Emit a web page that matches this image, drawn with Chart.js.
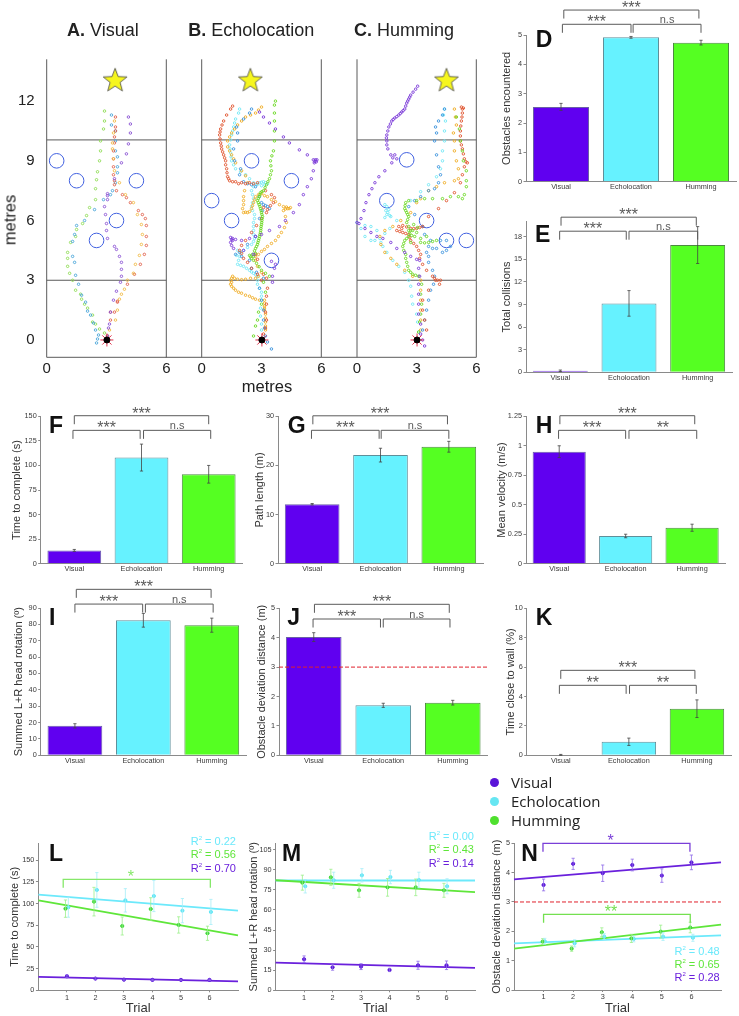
<!DOCTYPE html>
<html>
<head>
<meta charset="utf-8">
<title>Navigation panels</title>
<script src="https://cdn.jsdelivr.net/npm/chart.js@4/dist/chart.umd.min.js"></script>
<style>
  body { margin:0; background:#fff; font-family:"Liberation Sans",sans-serif; color:#222; }
  #page { position:relative; width:739px; height:1016px; overflow:hidden; }
  canvas { position:absolute; }
  .t { position:absolute; white-space:nowrap; transform:translateY(-50%); }
  .letter { font-weight:bold; font-size:23px; color:#111; }
  .head { font-size:18px; }
  .metres { font-size:16.5px; }
  .r2 { font-size:11px; transform:translate(-100%,-50%); }
  .leg { font-family:"Open Sans",sans-serif; font-size:15px; left:511px; }
  .dot { position:absolute; width:9px; height:9px; border-radius:50%; left:490px; }
</style>
</head>
<body>
<div id="page"></div>
<script>
// ---- data ----
var categories = ["Visual", "Echolocation", "Humming"];

var obstaclesVals = [2.55, 4.92, 4.74];      var obstaclesErr = [0.12, 0.03, 0.08];
var collisionsVals = [0.2, 9.15, 16.9];      var collisionsErr = [0.1, 1.7, 2.45];
var timeVals = [13.5, 108, 91];              var timeErr = [1, 13.7, 9];
var pathVals = [12.1, 22.1, 23.8];           var pathErr = [0.15, 1.4, 1.1];
var velocityVals = [0.95, 0.235, 0.305];     var velocityErr = [0.05, 0.015, 0.03];
var rotationVals = [18, 82.5, 79.5];         var rotationErr = [1.3, 4.2, 4.3];
var deviationVals = [4.02, 1.7, 1.79];       var deviationErr = [0.15, 0.07, 0.08];
var wallVals = [0.03, 0.92, 3.17];           var wallErr = [0.03, 0.25, 0.6];

var obstaclesTicks = [0,1,2,3,4,5];
var collisionsTicks = [0,3,6,9,12,15,18];
var timeTicks = [0,25,50,75,100,125,150];
var pathTicks = [0,10,20,30];
var velocityTicks = [0,0.25,0.5,0.75,1,1.25];
var rotationTicks = [0,10,20,30,40,50,60,70,80,90];
var deviationTicks = [0,1,2,3,4,5];
var wallTicks = [0,2,4,6,8,10];
var trialTicks = [1,2,3,4,5,6];
var timeTrialTicks = [0,25,50,75,100,125,150];
var rotTrialTicks = [0,15,30,45,60,75,90,105];
var devTrialTicks = [0,1,2,3,4,5];
var metreXTicks = [0,3,6];
var metreYTicks = [0,3,6,9,12];

var threshold = 3;

// brackets: from, to (category index / trial), level (y value), label, label position
var obstaclesBr = [[0.04,1.97,5.85,"***"],[0.02,1,5.365,"***"],[1.03,2,5.365,"n.s"]];
var collisionsBr = [[0.01,1.98,20.6,"***"],[-0.01,0.96,18.74,"***"],[1,2,18.74,"n.s"]];
var timeBr = [[0,2,150.6,"***"],[-0.02,0.98,135.7,"***"],[1.03,2.03,135.7,"n.s"]];
var pathBr = [[0.01,1.98,30.1,"***"],[-0.01,0.98,27.15,"***"],[1.01,2,27.15,"n.s"]];
var velocityBr = [[0.01,2.04,1.255,"***"],[-0.01,1,1.131,"***"],[1.05,2.07,1.131,"**"]];
var rotationBr = [[0.02,1.99,101.4,"***"],[0,0.99,92.4,"***"],[1.03,2.02,92.4,"n.s"]];
var deviationBr = [[0.01,1.95,5.136,"***"],[-0.01,0.96,4.636,"***"],[1,1.96,4.636,"n.s"]];
var wallBr = [[0,1.97,5.78,"***"],[-0.02,0.96,4.76,"**"],[1.01,1.99,4.76,"**"]];
var timeTrialBr = [[0.87,6.03,128,"*",0.46,"#86e86a"]];
var devTrialBr = [[0.98,5.95,5,"*",0.46,"#7a3fd8"],[1,5.96,2.58,"**",0.46,"#74e050"]];

// L: time to complete by trial
var timeGreenX = [0.95,1.95,2.94,3.94,4.92,5.93];
var timeGreen = [94.2,102.3,74.2,93.8,75.4,65.8];
var timeGreenErr = [10,16.5,10.4,13,9.4,8.2];
var timeCyanX = [1.05,2.05,3.05,4.05,5.05,6.05];
var timeCyan = [95.8,115.8,103.8,108.8,91.9,90.4];
var timeCyanErr = [11.5,20,13.5,18,14,14.5];
var timePurpleX = [1,2,3,4,5,6];
var timePurple = [16.2,13.5,12.3,12,12,12];
var timePurpleErr = [1.5,1,0.8,0.8,0.8,0.8];
var timeFits = {cyan:[110.4,91.9], green:[103.8,63.5], purple:[15.4,10.4]};

// M: head rotation by trial
var rotGreenX = [0.94,1.94,2.93,3.93,4.92,5.91];
var rotGreen = [80.4,84.4,74.7,76.9,76.9,74.7];
var rotGreenErr = [5.6,6,5.2,6.6,6.2,5.2];
var rotCyanX = [1.04,2.04,3.03,4.03,5.03,6.02];
var rotCyan = [77.7,82.2,85.9,84.6,82.4,77.7];
var rotCyanErr = [5,6,5,5,5.8,5.6];
var rotPurpleX = [1,2,3,4,5,6];
var rotPurple = [23.2,17.2,17.7,15.2,18.7,18.7];
var rotPurpleErr = [2.5,2.2,2.2,1.2,3,3.2];
var rotFits = {cyan:[82,82], green:[82.2,73.4], purple:[20.7,16.7]};

// N: deviation distance by trial
var devPurpleX = [1,2,3,4,5,6];
var devPurple = [3.58,4.3,3.98,4.26,3.9,4.35];
var devPurpleErr = [0.2,0.19,0.28,0.2,0.23,0.25];
var devGreenX = [0.97,1.95,2.97,3.97,4.96,5.96];
var devGreen = [1.65,1.41,1.97,1.76,1.99,2.13];
var devGreenErr = [0.1,0.09,0.15,0.14,0.22,0.18];
var devCyanX = [1.04,2.05,3.05,4.05,5.04,6.05];
var devCyan = [1.66,1.59,1.82,1.74,1.82,1.78];
var devCyanErr = [0.1,0.12,0.1,0.1,0.13,0.12];
var devFits = {cyan:[1.59,1.86], green:[1.41,2.23], purple:[3.77,4.35]};

var trialRange = [0,7];
var wallLevels = [3,10.05];
var startPoint = [[3.02,0]];

// A: visual trajectories (metres)
var visGreen = [[3.05,.2],[2.9,.35],[2.65,.55],[2.45,.8],[2.3,.9],[2.3,1.25],[2.05,1.6],[1.9,1.8],[1.75,2.05],[1.7,2.3],[1.45,2.5],[1.3,3],[1.15,3.35],[1.05,3.7],[1.05,4.1],[1.05,4.4],[1.2,4.9],[1.45,5.2],[1.5,5.55],[1.8,5.85],[2,6.25],[2.15,6.65],[2.45,7.05],[2.45,7.6],[2.5,8.05],[2.55,8.45],[2.65,9],[2.7,9.5],[2.7,10],[2.85,10.6],[2.9,11],[2.9,11.5]];
var visBlue = [[2.5,-.15],[2.55,.05],[2.6,.25],[2.45,.5],[2.35,.85],[2.2,1.25],[2.05,1.45],[1.95,1.9],[1.75,2.25],[1.6,2.8],[1.45,3.25],[1.4,3.9],[1.3,4.2],[1.3,4.95],[1.4,5.3],[1.5,5.75],[1.9,6],[2.4,6.55],[2.85,7.05],[3.2,7.3],[3.3,7.5],[3.45,7.9],[3.55,8.4],[3.55,8.7],[3.55,9.2],[3.45,9.5],[3.45,10],[3.45,10.5],[3.25,10.8],[3.25,11.3]];
var visRed = [[3.05,.2],[3.2,1],[3.2,1.4],[3.4,1.4],[3.55,1.9],[3.55,1.95],[4.05,2.8],[4.4,3.3],[4.7,3.8],[4.9,4.3],[5,4.75],[5,5.2],[5,5.75],[4.95,6.1],[4.8,6.3],[4.6,6.5],[4.2,6.9],[4,7.15],[3.8,7.3],[3.5,7.5],[3.4,7.8],[3.4,8],[3.35,8.3],[3.35,8.7],[3.35,9.1],[3.35,9.5],[3.4,9.9],[3.4,10.2],[3.45,10.5],[3.45,10.7],[3.45,11.2]];
var visOrange = [[3.05,.2],[3.15,.5],[3.45,1],[3.55,1.5],[3.65,2.05],[3.75,2.3],[3.9,2.55],[4.05,3],[4.35,3.35],[4.45,3.8],[4.65,4.25],[4.75,4.8],[4.8,5.3],[4.75,5.8],[4.55,6.3],[4.35,6.9],[3.95,7.3],[3.65,7.9],[3.4,8.5],[3.35,9.1],[3.3,9.6],[3.3,9.9],[3.35,10.4],[3.4,11]];
var visPurple = [[3.05,.2],[3.1,.6],[3.15,.8],[3.2,1.4],[3.35,2],[3.5,2.45],[3.7,2.9],[3.75,3.2],[3.75,3.55],[3.75,3.9],[3.65,4.2],[3.5,4.55],[3.4,4.7],[3.05,5.1],[3,5.5],[3,5.85],[2.95,6.3],[2.9,6.7],[3.05,7.05],[3.05,7.25],[3.05,7.35],[3.4,8.1],[3.75,8.9],[4,9.35],[4.1,9.85],[4.2,10.4],[4.2,10.85],[4.1,11.2]];

// B: echolocation trajectories
var echoRed = [[3.1,.3],[3.2,.6],[3.25,1],[3.2,1.4],[3.25,1.8],[3.25,2.2],[3.3,2.6],[3,3],[2.8,3.3],[2.5,3.6],[2.3,3.9],[2.1,4.1],[2,4.35],[1.9,4.5],[2,4.75],[2.2,5],[2.5,5.4],[2.75,5.75],[3,6.1],[3.25,6.4],[3.45,6.75],[3.6,6.9],[3.65,7.15],[3.5,7.3],[3.2,7.5],[2.8,7.9],[2.6,7.85],[2.4,7.9],[2.2,7.85],[2,7.9],[1.85,7.85],[1.7,7.95],[1.55,7.95],[1.4,8],[1.35,8.1],[1.3,8.2],[1.27,8.4],[1.25,8.6],[1.2,8.8],[1.2,9],[1.15,9.15],[1.1,9.3],[1.05,9.45],[1,9.6],[.98,9.75],[.95,9.9],[.92,10.1],[.9,10.3],[.92,10.45],[.95,10.6],[1.02,10.8],[1.1,11],[1.25,11.3],[1.45,11.6],[1.55,11.75],[2.8,4.05],[2.7,4.3],[3.1,3.3],[3.25,3.1],[3.1,6.65],[3.3,6.55]];
var echoOrange = [[3.2,.5],[3.2,.7],[3.2,.9],[3.2,1.1],[3.2,1.3],[3.15,1.5],[3.15,1.6],[3.15,1.7],[3.15,1.85],[3.15,2],[2.9,2],[2.7,2.05],[2.55,2.12],[2.4,2.2],[2.2,2.25],[2,2.35],[1.85,2.4],[1.7,2.5],[1.6,2.6],[1.5,2.7],[1.45,2.8],[1.5,2.9],[1.45,3],[1.55,3.2],[1.5,3.1],[1.65,3.1],[1.8,3.05],[2,3.03],[2.2,3.05],[2.45,3.1],[2.7,3.1],[2.85,3.2],[3,3.4],[2.8,3.7],[2.7,4],[2.7,4.2],[2.85,4.3],[3,4.45],[3.15,4.55],[3.3,4.7],[3.5,4.85],[3.7,5],[3.85,5.2],[4,5.4],[4.15,5.65],[4.25,5.9],[4.2,6.2],[4.1,6.5],[4.2,6.58],[4.3,6.6],[4.45,6.65],[4.38,6.6],[4.25,6.68],[4.1,6.7],[3.9,6.8],[3.7,6.95],[3.5,7.05],[3.3,7.2],[3.15,7.25],[3,7.35],[2.85,7.3],[2.7,7.2],[2.65,7.05],[2.6,6.9],[2.55,6.75],[2.5,6.6],[2.4,6.45],[2.3,6.4],[2.2,6.42],[2.1,6.4],[2.05,6.6],[2.1,6.8],[2.1,7],[2.1,7.2],[2.15,7.5],[2.3,7.9],[2.2,8.25],[2,8.5],[1.7,8.9],[1.6,9.1],[1.5,9.3],[1.4,9.5],[1.3,9.7],[1.3,10],[1.4,10.2],[1.5,10.4],[1.65,10.6],[1.8,10.8],[2,11],[2.2,11.2],[2.45,11.3],[2.7,11.4],[2.85,11.55],[3,11.7]];
var echoCyan = [[3,.5],[3,.8],[2.95,1.2],[2.95,1.6],[3,2],[3,2.2],[3,2.4],[2.9,2.6],[2.8,2.8],[2.8,3],[2.8,3.2],[2.7,3.28],[2.6,3.35],[2.5,3.42],[2.4,3.5],[2.25,3.6],[2.1,3.7],[1.95,3.75],[1.8,3.8],[1.85,4],[1.9,4.2],[1.75,4.25],[1.8,4.5],[1.95,4.4],[2.1,4.5],[2.3,4.65],[2.5,4.8],[2.6,4.95],[2.65,5.1],[2.6,5.3],[2.6,5.5],[2.6,5.7],[2.6,5.9],[2.65,6.1],[2.65,6.3],[2.55,6.5],[2.5,6.7],[2.55,6.9],[2.6,7.1],[2.55,7.3],[2.5,7.5],[2.6,7.7],[2.75,7.82],[2.9,7.9],[3,7.92],[3.1,7.95],[3.2,7.9],[3.3,7.85],[3.15,7.8],[3,7.75],[2.8,7.82],[2.6,7.9],[2.4,8.1],[2.2,8.3],[1.95,8.45],[1.7,8.6],[1.6,8.8],[1.5,9],[1.47,9.2],[1.45,9.4],[1.42,9.6],[1.4,9.8],[1.45,10.05],[1.5,10.3],[1.55,10.5],[1.6,10.7],[1.65,10.9],[1.7,11.1],[1.85,11.4],[1.9,11.6]];
var echoGreen = [[2.6,.2],[2.7,.7],[2.8,1],[2.85,1.4],[3,1.8],[3.2,2.4],[3.1,2.9],[3.4,3.2],[3.2,3.35],[3,3.5],[2.88,3.68],[2.75,3.85],[2.6,4],[2.5,4.1],[2.4,4.25],[2.55,4.3],[2.7,4.35],[2.6,4.2],[2.45,4.18],[2.65,4.48],[2.7,4.6],[2.75,4.7],[2.8,4.8],[2.82,4.9],[2.85,5],[2.88,5.1],[2.9,5.2],[2.92,5.3],[2.95,5.4],[2.96,5.5],[2.97,5.6],[2.98,5.7],[3,5.8],[3.01,5.9],[3.02,6],[3.03,6.1],[3.05,6.2],[3.02,6.3],[3,6.4],[2.98,6.5],[2.95,6.6],[2.92,6.7],[2.88,6.8],[2.84,6.9],[2.8,7],[2.84,7.1],[2.88,7.2],[2.92,7.3],[2.95,7.4],[3.02,7.45],[3.1,7.5],[3.18,7.65],[3.25,7.8],[3.32,7.95],[3.4,8.1],[3.45,8.3],[3.5,8.5],[3.47,8.75],[3.45,9],[3.52,9.25],[3.6,9.5],[3.65,10],[3.65,10.5],[3.65,11],[3.65,11.4],[3.65,11.8],[3.7,12]];
var echoBlue = [[3.5,-.45],[3.3,-.1],[3.2,.2],[3.15,.6],[3.1,1],[3.1,1.5],[3,2],[2.9,2.6],[3.1,3.1],[2.75,3.4],[2.5,3.6],[2.4,4],[2,4.2],[1.9,4.4],[1.7,4.3],[2.3,4.8],[2.7,5.2],[2.9,6.1],[3.05,6.5],[3.1,6.8],[3.3,6.7],[3.4,6.6],[3.2,6.75],[3,6.9],[2.9,7.2],[2.7,7.7],[2.5,7.8],[2.3,7.85],[2.1,7.95],[1.9,8.3],[1.95,8.6],[1.65,9],[1.6,9.6],[1.8,10],[1.8,10.4],[1.75,10.7],[2.1,11.1],[2.4,11.4],[2.5,11.6]];
var echoPurple = [[3.55,2.9],[3.55,3.2],[3.65,3.6],[3.7,3.8],[3.5,3.95],[2.6,4.3],[2.1,4.5],[1.6,4.6],[1.5,4.75],[1.45,4.9],[1.5,5.05],[1.55,5.1],[1.45,5.15],[1.55,5],[1.7,5.05],[2,5],[2.4,5.1],[2.7,5.2],[3,5.3],[3.4,5.5],[3.9,5.7],[4.2,6],[4.6,6.4],[4.9,6.8],[5.1,7.3],[5.3,7.7],[5.5,8.1],[5.6,8.5],[5.65,8.9],[5.7,9.05],[5.75,8.95],[5.6,9.05],[5.68,8.97],[5.78,9.05],[5.3,9.3],[4.9,9.55],[4.4,9.9],[4.1,10.2],[3.7,10.6],[3.4,10.9],[3.1,11.2],[2.9,11.45]];

// C: humming trajectories
var humPurple = [[3.4,-.3],[3.3,0],[3.2,.3],[3.2,.8],[3.1,1.3],[3.1,1.8],[3.1,2.3],[3.1,2.8],[3.15,3.2],[3.1,3.6],[3.15,4],[3,4.05],[2.7,4.2],[2.4,4.4],[2,4.6],[1.7,4.9],[1.3,5.1],[1,5.2],[.7,5.4],[.4,5.6],[.1,5.85],[0,5.9],[.2,6.1],[.35,6.5],[.45,6.9],[.6,7.3],[.75,7.6],[.9,7.9],[1.1,8.2],[1.4,8.5],[1.75,8.9],[2,9.1],[1.9,9.3],[1.7,9.3],[1.8,9.15],[1.55,9.6],[1.5,9.8],[1.5,10],[1.48,10.15],[1.5,10.3],[1.55,10.5],[1.6,10.7],[1.68,10.85],[1.75,11],[1.82,11.08],[1.9,11.15],[2,11.22],[2.1,11.3],[2.18,11.38],[2.25,11.45],[2.32,11.52],[2.4,11.6],[2.45,11.75],[2.5,11.9],[2.55,12],[2.6,12.1],[2.65,12.2],[2.7,12.3],[2.82,12.45],[2.95,12.6],[3.05,12.75]];
var humBlue = [[3.3,.5],[3.4,1],[3.5,1.5],[3.6,2],[3.7,2.5],[3.85,2.8],[3.9,3.2],[3.8,3.5],[3.6,3.9],[3.6,4.2],[3.5,4.4],[3.6,4.7],[3.8,4.6],[4,4.6],[4.3,4.4],[4.5,4.5],[4.7,4.7],[4.5,5],[4.2,5],[3.7,5],[3.4,5.3],[3.3,5.7],[2.9,6.3],[2.6,6.7],[2.9,7],[3.2,7.2],[3.6,7.5],[3.9,7.6],[4.1,7.9],[4.2,8.3],[4.1,8.7],[4,9.3],[3.9,10],[4,10.4],[3.95,10.7],[4.1,11],[4.3,11.3],[4.4,11.6]];
var humCyan = [[3.1,.4],[3.05,.9],[3,1.3],[2.8,1.8],[2.75,2.2],[2.7,2.7],[2.6,3],[2.4,3.4],[2.1,3.7],[1.8,4],[1.5,4.4],[1.3,4.7],[1.2,4.9],[1.15,5.1],[.9,5],[.7,5],[.4,5.2],[.2,5.6],[0,5.9],[.4,5.75],[.7,5.7],[1,5.5],[1.4,5.35],[1.65,5.6],[2,6],[1.7,6.2],[1.5,6.3],[1.45,6.5],[1.5,6.7],[1.4,6.8],[1.55,6.4],[1.65,6.25],[1.4,6.15],[1.6,6.55],[2.7,7],[3.2,7.45],[3.6,7.8],[4,8.2],[4.2,8.6],[4.3,9],[4.3,9.5],[4.4,10],[4.4,10.5],[4.45,11],[4.35,11.3],[4.4,11.6]];
var humOrange = [[3.2,.5],[3.2,1],[3.2,1.5],[3.2,2],[3.2,2.5],[3.2,3],[2.8,3.2],[2.4,3.5],[2,3.8],[1.7,4.1],[1.4,4.4],[1.2,4.8],[1.15,5.2],[1.4,5.5],[1.8,5.7],[2.2,6],[2.7,6.4],[3,6.9],[3.2,7.1],[3.6,7.5],[4,7.7],[4.4,7.9],[4.9,8],[5.1,8.1],[5.1,8.6],[5,9],[4.9,9.5],[4.9,10],[4.85,10.4],[5,10.8],[4.95,11.2],[4.9,11.6]];
var humRed = [[3.5,.5],[3.4,1],[3.3,1.5],[3.3,2],[3.6,2.5],[3.95,3],[4.15,2.8],[4.05,3],[3.8,3.2],[3.5,3.5],[3.3,3.8],[3.15,4.1],[3.2,4.3],[3.1,4.5],[3,4.7],[2.85,4.85],[2.7,5],[2.65,5.15],[2.6,5.3],[2.45,5.35],[2.3,5.4],[2.15,5.45],[2,5.5],[2.25,5.6],[2.1,5.7],[2.3,5.75],[2.5,5.68],[2.7,5.6],[2.85,5.6],[3,5.6],[3.15,5.65],[3.3,5.7],[3.6,6.2],[4.1,6.6],[4.5,7],[4.9,7.4],[5.2,7.9],[5.3,8.3],[5.4,8.7],[5.55,8.9],[5.48,8.95],[5.4,9.1],[5.35,9.35],[5.3,9.6],[5.25,9.8],[5.2,10],[5.2,10.25],[5.2,10.5],[5.22,10.75],[5.25,11],[5.28,11.2],[5.3,11.4],[5.35,11.65],[5.3,11.6],[5.25,11.7],[4.2,3],[3.9,3.1]];
var humGreen = [[3.1,.4],[3.15,.9],[3.2,1.3],[3.25,1.8],[3.2,2.3],[3.25,2.8],[3.1,3.2],[2.95,3.25],[2.8,3.3],[2.7,3.4],[2.6,3.5],[2.55,3.7],[2.5,3.9],[2.45,4.1],[2.45,4.3],[2.35,4.5],[2.3,4.7],[2.35,4.85],[2.4,5],[2.5,5.1],[2.6,5.2],[2.65,5.35],[2.7,5.5],[2.6,5.7],[2.5,5.9],[2.55,6.05],[2.6,6.2],[2.55,6.3],[2.5,6.4],[2.45,6.5],[2.4,6.6],[2.42,6.75],[2.45,6.9],[2.6,7],[3,7],[3.4,7.1],[3.8,7.1],[4.3,7.1],[4.7,7.2],[5.1,7.2],[5.3,7.1],[5.4,7.3],[5.5,7.7],[5.5,8],[5.5,8.5],[5.35,9],[5.3,9.5],[5.2,10],[5.15,10.6],[5,11.2],[3.2,4.9],[3.4,4.88],[3.6,4.9],[3.8,4.95],[4,5],[3.5,5.2],[3.2,5.1],[2.9,5.2],[2.8,5.5],[3,5.4],[2.7,4.9],[3.05,5.65],[2.85,5.8],[2.6,5.5],[2.75,5.25]];

var visualObstacles = [[.5,9],[1.5,8],[4.5,8],[3.5,6],[2.5,5]];
var echoObstacles = [[2.5,9],[4.5,8],[.5,7],[1.5,6],[3.5,4]];
var humObstacles = [[2.5,9.05],[1.5,7],[3.5,6],[4.5,5],[5.5,5]];
var visualGoal = [[3.43,13.07]];
var echoGoal = [[2.44,13.07]];
var humGoal = [[4.5,13.07]];

// ---- page helpers ----
var page = document.getElementById("page");
var PURPLE = "#6000f0", CYAN = "#66f2ff", GREEN = "#55ff22";
var lineCyan = "#6ce9fb", lineGreen = "#5fe63a", linePurple = "#6a20dc";
var tickFont = {family:"Liberation Sans", size:7.3};
var textCol = "#3a3a3a";

function addText(cls, left, top, html, color, extra) {
  var d = document.createElement("div");
  d.className = "t " + cls;
  d.style.left = left + "px";
  d.style.top = top + "px";
  d.innerHTML = html;
  if (color) d.style.color = color;
  if (extra) d.style.cssText += extra;
  page.appendChild(d);
}

// error bars, brackets and the dashed reference line go on through the chart's scales
function overlay(brackets, refValue) {
  return {
    id: "overlay",
    afterDatasetsDraw: function (chart) {
      var ctx = chart.ctx, xs = chart.scales.x, ys = chart.scales.y;
      ctx.save();
      chart.data.datasets.forEach(function (ds, i) {
        if (!ds.errs) return;
        var meta = chart.getDatasetMeta(i);
        ctx.strokeStyle = ds.errColor || "#444";
        ctx.lineWidth = 0.8;
        ds.errs.forEach(function (e, j) {
          var v = meta.controller.getParsed(j).y, x = meta.data[j].x;
          var a = ys.getPixelForValue(v + e), b = ys.getPixelForValue(v - e);
          ctx.beginPath();
          ctx.moveTo(x, a); ctx.lineTo(x, b);
          ctx.moveTo(x - 1.6, a); ctx.lineTo(x + 1.6, a);
          ctx.moveTo(x - 1.6, b); ctx.lineTo(x + 1.6, b);
          ctx.stroke();
        });
      });
      if (refValue !== undefined) {
        var ry = ys.getPixelForValue(refValue);
        ctx.strokeStyle = "#e0202c";
        ctx.lineWidth = 1;
        ctx.setLineDash([4, 2]);
        ctx.beginPath();
        ctx.moveTo(chart.chartArea.left, ry); ctx.lineTo(chart.chartArea.right, ry);
        ctx.stroke();
        ctx.setLineDash([]);
      }
      (brackets || []).forEach(function (b) {
        var x0 = xs.getPixelForValue(b[0]), x1 = xs.getPixelForValue(b[1]), y = ys.getPixelForValue(b[2]);
        var col = b[5] || "#5a5a5a";
        ctx.strokeStyle = col;
        ctx.lineWidth = b[5] ? 1.3 : 1;
        ctx.beginPath();
        ctx.moveTo(x0, y + 8.5); ctx.lineTo(x0, y); ctx.lineTo(x1, y); ctx.lineTo(x1, y + 8.5);
        ctx.stroke();
        var f = b[4] === undefined ? 0.5 : b[4];
        var lx = x0 + (x1 - x0) * f;
        ctx.fillStyle = col;
        ctx.textAlign = "center";
        ctx.textBaseline = "alphabetic";
        if (b[3] == "n.s") {
          ctx.font = "11px 'Liberation Sans'";
          ctx.fillText(b[3], lx, y - 1.5);
        } else {
          ctx.font = "16px 'Liberation Sans'";
          ctx.fillText(b[3], lx, y + 2.8);
        }
      });
      ctx.restore();
    }
  };
}

// plot = [left, top, right, bottom] of the chart area on the page
function place(plot, titleX, xH, config) {
  var cx = Math.max(0, Math.floor(titleX - 10)), cy = Math.max(0, Math.floor(plot[1] - 50));
  var cw = Math.ceil(plot[2] + 10) - cx, ch = Math.ceil(plot[3] + 30) - cy;
  var c = document.createElement("canvas");
  c.width = cw; c.height = ch;
  c.style.left = cx + "px"; c.style.top = cy + "px";
  page.appendChild(c);
  var yW = plot[0] - titleX + 6.6;
  var o = config.options;
  o.responsive = false;
  o.animation = false;
  o.layout = {padding: {left: plot[0] - cx - yW, top: plot[1] - cy, right: cx + cw - plot[2], bottom: cy + ch - plot[3] - xH}};
  o.scales.y.afterFit = function (s) { s.width = yW; };
  o.scales.x.afterFit = function (s) { s.height = xH; };
  o.plugins = {legend: {display: false}, tooltip: {enabled: false}};
  return new Chart(c, config);
}

function setTicks(list) {
  return function (s) { s.ticks = list.map(function (v) { return {value: v}; }); };
}

function yAxis(min, max, ticks, title) {
  return {
    min: min, max: max,
    afterBuildTicks: setTicks(ticks),
    border: {color: "#8a8a8a"},
    grid: {drawOnChartArea: false, tickLength: 2.5, color: "#8a8a8a"},
    ticks: {font: tickFont, color: textCol, padding: 1.5, autoSkip: false, callback: function (v) { return String(v); }},
    title: {display: true, text: title, color: "#333", font: {family: "Liberation Sans", size: 11}, padding: 0}
  };
}

function barPanel(plot, titleX, title, vals, errs, max, ticks, brackets, refValue) {
  place(plot, titleX, 14, {
    type: "bar",
    data: {labels: categories, datasets: [{
      data: vals, errs: errs, backgroundColor: [PURPLE, CYAN, GREEN],
      borderColor: ["#6a5fa8", "#5f8f9a", "#4c8a40"], borderWidth: 1,
      barPercentage: 0.8, categoryPercentage: 1
    }]},
    options: {scales: {
      x: {border: {color: "#8a8a8a"}, grid: {display: false, drawTicks: false},
          ticks: {font: tickFont, color: textCol, padding: 1, maxRotation: 0, autoSkip: false}},
      y: yAxis(0, max, ticks, title)
    }},
    plugins: [overlay(brackets, refValue)]
  });
}

function pts(xs, ys) { return xs.map(function (x, i) { return {x: x, y: ys[i]}; }); }
function obj(list) { return list.map(function (p) { return {x: p[0], y: p[1]}; }); }

function trialPanel(plot, titleX, title, max, ticks, series, fits, brackets, refValue) {
  var sets = [];
  series.forEach(function (s) {
    sets.push({data: pts(s[0], s[1]), errs: s[2], errColor: s[4], backgroundColor: s[3], borderColor: s[3], pointRadius: 1.6, clip: false});
  });
  [[fits.purple, linePurple], [fits.green, lineGreen], [fits.cyan, lineCyan]].forEach(function (f) {
    sets.push({data: pts(trialRange, f[0]), showLine: true, borderColor: f[1], borderWidth: 1.8, pointRadius: 0, clip: false});
  });
  var y = yAxis(0, max, ticks, title);
  place(plot, titleX, 26, {
    type: "scatter",
    data: {datasets: sets},
    options: {scales: {
      x: {type: "linear", min: 0, max: 7, afterBuildTicks: setTicks(trialTicks),
          border: {color: "#8a8a8a"}, grid: {drawOnChartArea: false, tickLength: 2, color: "#8a8a8a"},
          ticks: {font: tickFont, color: textCol, padding: 1, autoSkip: false, maxRotation: 0},
          title: {display: true, text: "Trial", color: "#333", font: {family: "Liberation Sans", size: 13}, padding: 0}},
      y: y
    }},
    plugins: [overlay(brackets, refValue)]
  });
}

// yellow goal star for the point style
function makeStar() {
  var c = document.createElement("canvas"), r = 12.5, g;
  c.width = 26; c.height = 26;
  g = c.getContext("2d");
  g.beginPath();
  for (var i = 0; i < 10; i++) {
    var a = -Math.PI / 2 + i * Math.PI / 5, d = i % 2 ? r * 0.42 : r;
    g.lineTo(13 + d * Math.cos(a), 14 + d * Math.sin(a));
  }
  g.closePath();
  g.fillStyle = "#f6f61e"; g.fill();
  g.strokeStyle = "#444"; g.lineWidth = 0.8; g.stroke();
  return c;
}
var starImg = makeStar();

function trackPanel(plot, titleX, showY, baseFrom, paths, obstacles, goal) {
  var sets = [
    {data: obj(startPoint), pointRadius: 3, backgroundColor: "#000", borderColor: "#000", clip: false},
    {data: obj(startPoint), pointStyle: "star", pointRadius: 6.5, borderColor: "#e0304a", pointBorderWidth: 1, backgroundColor: "#e0304a", clip: false}
  ];
  paths.forEach(function (p) {
    sets.push({data: obj(p[0]), pointRadius: 1.25, pointBorderWidth: 0.9, backgroundColor: "rgba(255,255,255,0)", borderColor: p[1], clip: false});
  });
  sets.push({data: obj(goal), pointStyle: starImg, clip: false});
  sets.push({data: obj(obstacles), pointRadius: 7.3, pointBorderWidth: 1, backgroundColor: "rgba(255,255,255,0)", borderColor: "#4060e0", clip: false});
  var wall = "#5a5a5a";
  [[[0, -0.87], [0, 14.1]], [[6, -0.87], [6, 14.1]], [[0, wallLevels[0]], [6, wallLevels[0]]], [[0, wallLevels[1]], [6, wallLevels[1]]], [[baseFrom, -0.87], [6, -0.87]]].forEach(function (w) {
    sets.push({data: obj(w), showLine: true, borderColor: wall, borderWidth: 1, pointRadius: 0, clip: false});
  });
  place(plot, titleX, 26, {
    type: "scatter",
    data: {datasets: sets},
    options: {scales: {
      x: {type: "linear", min: 0, max: 6, afterBuildTicks: setTicks(metreXTicks), border: {display: false}, grid: {display: false, drawTicks: false},
          ticks: {font: {family: "Liberation Sans", size: 15}, color: "#222", padding: 2.5, maxRotation: 0, autoSkip: false}},
      y: {min: -0.87, max: 14.1, afterBuildTicks: setTicks(showY ? metreYTicks : []), border: {display: false}, grid: {display: false, drawTicks: false},
          ticks: {font: {family: "Liberation Sans", size: 15}, color: "#222", padding: 12, autoSkip: false}}
    }}
  });
}

// ---- panels ----
var pCol = {green: "#8edc55", blue: "#4ba6d9", orange: "#f0ba45", red: "#e0624e", purple: "#8a52d4"};
var dCol = {green: "#6ad820", blue: "#3a92dc", orange: "#efab22", red: "#e0522c", purple: "#7a3ad8", cyan: "#72e8f5"};

trackPanel([46.7, 59.3, 166.3, 357.3], 10, true, 0,
  [[visPurple, pCol.purple], [visOrange, pCol.orange], [visRed, pCol.red], [visBlue, pCol.blue], [visGreen, pCol.green]],
  visualObstacles, visualGoal);
trackPanel([201.7, 59.3, 321.3, 357.3], 170, false, -1.8,
  [[echoPurple, dCol.purple], [echoGreen, dCol.green], [echoRed, dCol.red], [echoBlue, dCol.blue], [echoOrange, dCol.orange], [echoCyan, dCol.cyan]],
  echoObstacles, echoGoal);
trackPanel([357, 59.3, 476.3, 357.3], 325, false, -1.8,
  [[humPurple, dCol.purple], [humGreen, dCol.green], [humRed, dCol.red], [humBlue, dCol.blue], [humOrange, dCol.orange], [humCyan, dCol.cyan]],
  humObstacles, humGoal);

barPanel([526, 35, 736, 181.7], 507.3, "Obstacles encountered", obstaclesVals, obstaclesErr, 5, obstaclesTicks, obstaclesBr);
barPanel([526, 221.7, 732, 372.3], 507.3, "Total collisions", collisionsVals, collisionsErr, 20, collisionsTicks, collisionsBr);
barPanel([40.7, 416.3, 242.3, 563.7], 17.3, "Time to complete (s)", timeVals, timeErr, 150, timeTicks, timeBr);
barPanel([278, 416.3, 483, 563.7], 260, "Path length (m)", pathVals, pathErr, 30, pathTicks, pathBr);
barPanel([526, 416.3, 725.3, 563.7], 502.3, "Mean velocity (m/s)", velocityVals, velocityErr, 1.25, velocityTicks, velocityBr);
barPanel([40.7, 608, 246, 755.3], 19.3, "Summed L+R head rotation (º)", rotationVals, rotationErr, 90, rotationTicks, rotationBr);
barPanel([279, 608.3, 487.5, 755.3], 262.3, "Obstacle deviation distance (m)", deviationVals, deviationErr, 5, deviationTicks, deviationBr, threshold);
barPanel([526.7, 608.3, 731, 755.3], 510.7, "Time close to wall (%)", wallVals, wallErr, 10, wallTicks, wallBr);

trialPanel([38.4, 843.3, 238, 990.3], 14.7, "Time to complete (s)", 169.6, timeTrialTicks,
  [[timeGreenX, timeGreen, timeGreenErr, "#3fd83a", "#9cf08a"], [timeCyanX, timeCyan, timeCyanErr, "#5fe6f5", "#a6eef8"], [timePurpleX, timePurple, timePurpleErr, "#5a14d8", "#8e6ae8"]],
  timeFits, timeTrialBr);
trialPanel([275.6, 843.3, 475, 990.3], 254.3, "Summed L+R head rotation (º)", 109.8, rotTrialTicks,
  [[rotGreenX, rotGreen, rotGreenErr, "#3fd83a", "#9cf08a"], [rotCyanX, rotCyan, rotCyanErr, "#5fe6f5", "#a6eef8"], [rotPurpleX, rotPurple, rotPurpleErr, "#5a14d8", "#8e6ae8"]],
  rotFits);
trialPanel([514, 843.3, 721, 990], 497.3, "Obstacle deviation distance (m)", 5, devTrialTicks,
  [[devPurpleX, devPurple, devPurpleErr, "#5a14d8", "#8e6ae8"], [devGreenX, devGreen, devGreenErr, "#3fd83a", "#9cf08a"], [devCyanX, devCyan, devCyanErr, "#5fe6f5", "#a6eef8"]],
  devFits, devTrialBr, threshold);

// ---- text ----
addText("head", 67, 30, "<b>A.</b> Visual");
addText("head", 188.3, 30, "<b>B.</b> Echolocation");
addText("head", 354, 30, "<b>C.</b> Humming");
addText("metres", 10, 220, "metres", null, "transform:translate(-50%,-50%) rotate(-90deg);");
addText("metres", 267, 385.7, "metres", null, "transform:translate(-50%,-50%);");

var letters = [["D",535.7,39],["E",535,234],["F",49,425],["G",287.7,425],["H",535.7,425],["I",49,617],["J",287.3,617],["K",535.7,617],["L",49,853],["M",282,853],["N",521.3,853]];
letters.forEach(function (l) { addText("letter", l[1], l[2], l[0]); });

var r2Blocks = [
  [236, [841.3,854.3,867.7], ["0.22","0.56","0.70"], [lineCyan,lineGreen,linePurple]],
  [474, [836.3,849.3,862.7], ["0.00","0.43","0.14"], [lineCyan,lineGreen,linePurple]],
  [719.7, [951,964.3,977], ["0.48","0.65","0.28"], [lineCyan,lineGreen,linePurple]]
];
r2Blocks.forEach(function (b) {
  b[1].forEach(function (y, i) {
    addText("r2", b[0], y, "R<sup style='font-size:6px'>2</sup> = " + b[2][i], b[3][i]);
  });
});

var legendRows = [["Visual",782,"#5a14d8"],["Echolocation",801.3,"#66e6f2"],["Humming",820.3,"#4fe02e"]];
legendRows.forEach(function (r) {
  addText("leg", 511, r[1], r[0]);
  var d = document.createElement("div");
  d.className = "dot";
  d.style.top = (r[1] - 4.5) + "px";
  d.style.background = r[2];
  page.appendChild(d);
});
</script>
</body>
</html>
